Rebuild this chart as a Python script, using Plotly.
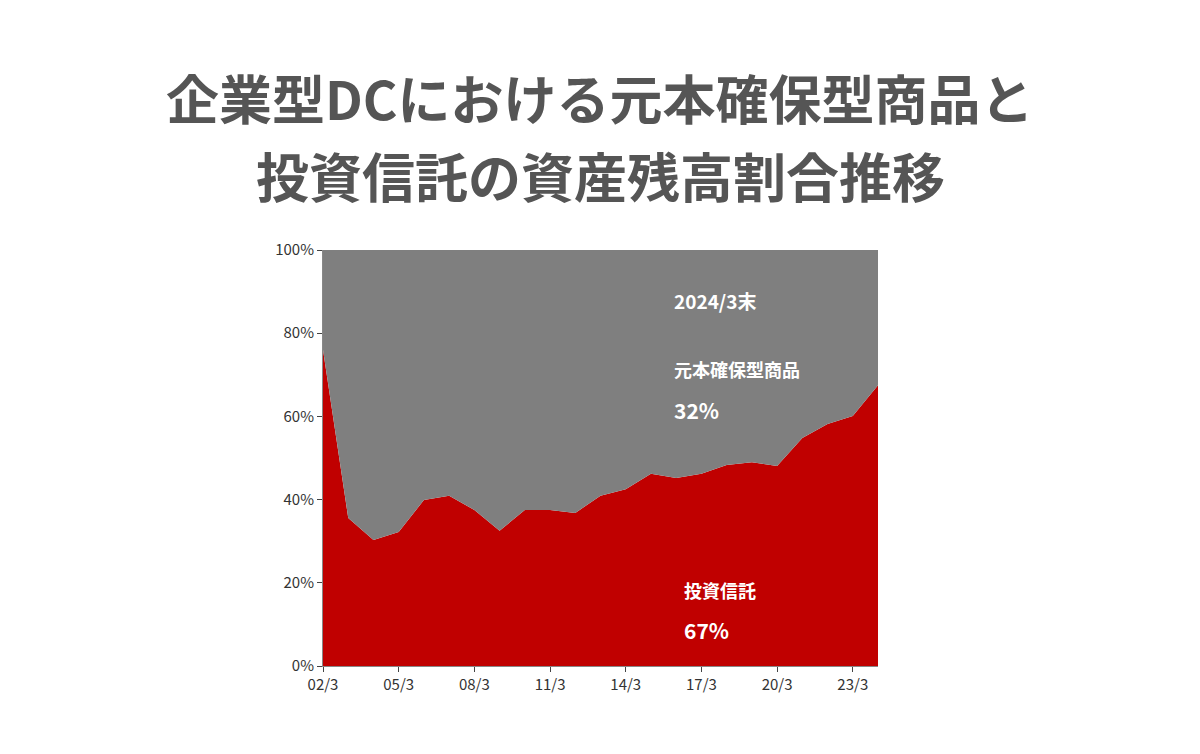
import plotly.graph_objects as go

years = list(range(2002, 2025))
labels = [f"{y%100:02d}/3" for y in years]
inv = [76, 35.6, 30.3, 32.2, 39.9, 40.9, 37.5, 32.5, 37.5, 37.5, 36.8, 40.9, 42.5,
       46.2, 45.2, 46.2, 48.3, 49.0, 48.1, 54.8, 58.2, 60.1, 67.5]
principal = [100 - v for v in inv]
tick_idx = [i for i, y in enumerate(years) if (y - 2002) % 3 == 0]

FONT = "Noto Sans CJK JP"
x = list(range(len(years)))
fig = go.Figure()
fig.add_trace(go.Scatter(x=x, y=inv, stackgroup="a", mode="none", fillcolor="#C00000", name="投資信託"))
fig.add_trace(go.Scatter(x=x, y=principal, stackgroup="a", mode="none", fillcolor="#7F7F7F", name="元本確保型商品"))

def px2x(px): return (px - 323) / 555
def py2y(py): return (666 - py) / 416

fig.update_layout(
    width=1200, height=754, paper_bgcolor="white", plot_bgcolor="white",
    margin=dict(l=315, r=330, t=242, b=96), showlegend=False,
    font=dict(family=FONT, color="#333"),
    xaxis=dict(range=[0, len(years) - 1], tickvals=[x[i] for i in tick_idx],
               ticktext=[labels[i] for i in tick_idx], ticks="outside", ticklen=5,
               showline=True, linecolor="#888", showgrid=False, tickfont=dict(size=15)),
    yaxis=dict(range=[0, 100], tickvals=[0, 20, 40, 60, 80, 100],
               ticktext=["0%", "20%", "40%", "60%", "80%", "100%"], ticks="outside", ticklen=5,
               showline=True, linecolor="#888", showgrid=False, tickfont=dict(size=15)),
)
for t, py in [("企業型DCにおける元本確保型商品と", 97), ("投資信託の資産残高割合推移", 175)]:
    fig.add_annotation(text=f"<b>{t}</b>", x=px2x(600), y=py2y(py), xref="paper", yref="paper",
                       showarrow=False, font=dict(size=53, color="#555", family=FONT), yanchor="middle")
for t, px, py, s in [("2024/3末", 672, 300, 19), ("元本確保型商品", 672, 369, 18), ("32%", 672, 410, 21),
                     ("投資信託", 682, 590, 18), ("67%", 682, 630, 21)]:
    fig.add_annotation(text=f"<b>{t}</b>", x=px2x(px), y=py2y(py),
                       xref="paper", yref="paper", xanchor="left", yanchor="middle",
                       showarrow=False, font=dict(size=s, color="white", family=FONT))
fig.write_html("out.html")
